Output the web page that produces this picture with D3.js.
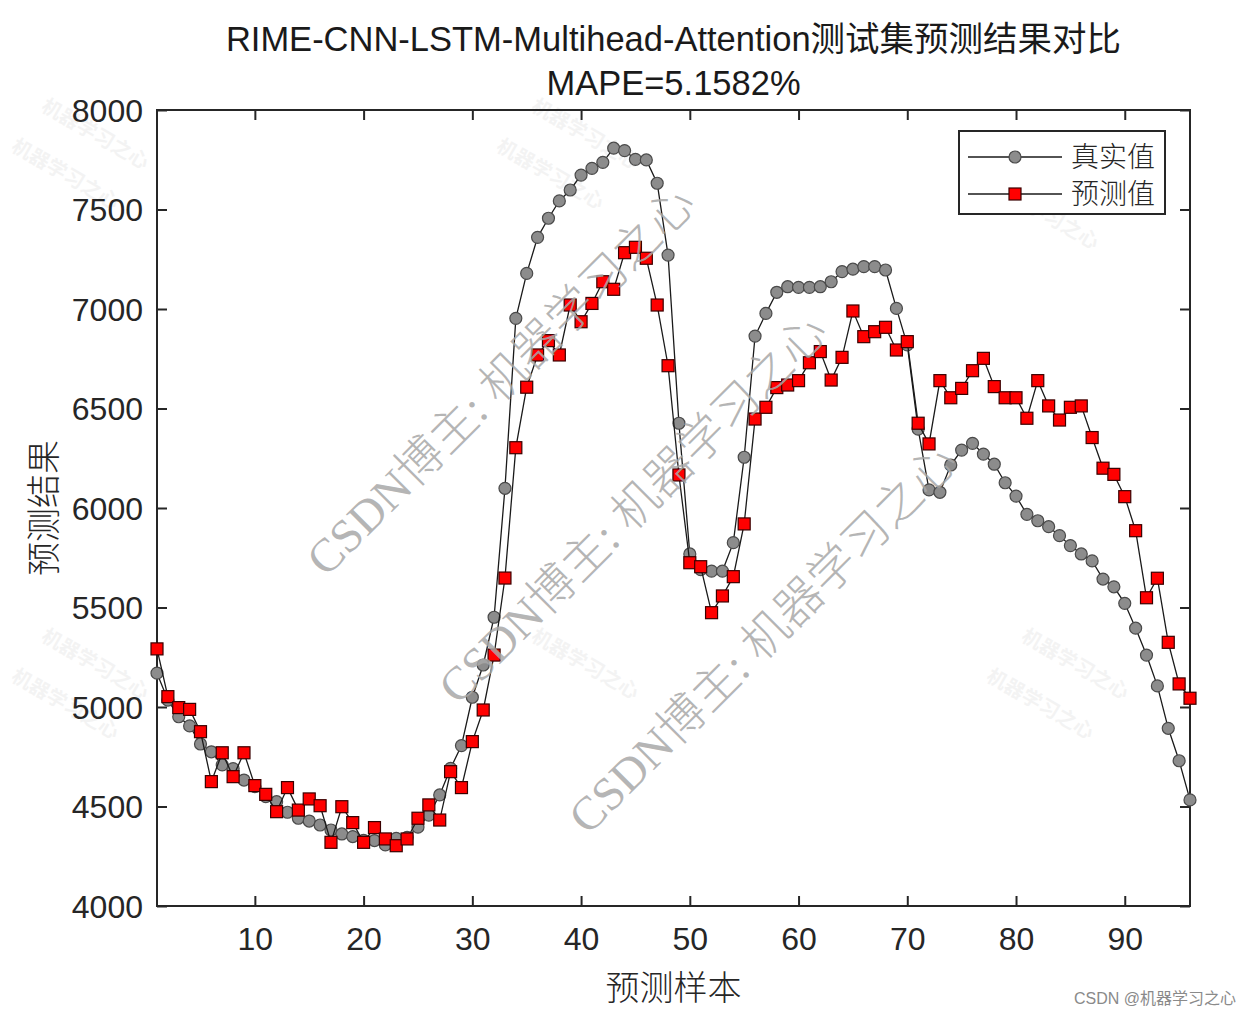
<!DOCTYPE html>
<html>
<head>
<meta charset="utf-8">
<script src="https://cdn.jsdelivr.net/npm/d3@7"></script>
<style>
  html, body { margin: 0; padding: 0; background: #fff; }
  svg { display: block; }
</style>
</head>
<body>
<svg id="chart" width="1252" height="1017"></svg>
<script>
// ---- data ----
const titleLine1 = "RIME-CNN-LSTM-Multihead-Attention测试集预测结果对比";
const titleLine2 = "MAPE=5.1582%";
const xLabel = "预测样本";
const yLabel = "预测结果";
const seriesNames = ["真实值", "预测值"];
const xTicks = [10, 20, 30, 40, 50, 60, 70, 80, 90];
const yTicks = [4000, 4500, 5000, 5500, 6000, 6500, 7000, 7500, 8000];

const trueValues = [
  5170, 5035, 4951, 4905, 4814, 4775, 4709, 4690, 4633, 4600,
  4550, 4524, 4471, 4441, 4427, 4407, 4382, 4362, 4349, 4330,
  4329, 4307, 4340, 4345, 4396, 4457, 4558, 4692, 4806, 5049,
  5211, 5451, 6099, 6953, 7179, 7360, 7456, 7543, 7598, 7673,
  7707, 7737, 7808, 7796, 7752, 7749, 7632, 7271, 6426, 5769,
  5690, 5683, 5683, 5826, 6255, 6864, 6978, 7084, 7112, 7109,
  7109, 7112, 7137, 7188, 7200, 7213, 7213, 7196, 7003, 6820,
  6396, 6091, 6079, 6216, 6291, 6325, 6271, 6220, 6127, 6060,
  5968, 5936, 5906, 5861, 5811, 5769, 5734, 5643, 5604, 5521,
  5396, 5261, 5106, 4893, 4730, 4533
];
const predValues = [
  5292, 5052, 4997, 4988, 4876, 4625, 4770, 4650, 4770, 4605,
  4561, 4474, 4595, 4482, 4538, 4504, 4320, 4499, 4419, 4320,
  4394, 4337, 4303, 4337, 4441, 4508, 4432, 4675, 4595, 4826,
  4985, 5261, 5648, 6303, 6607, 6769, 6841, 6769, 7020, 6936,
  7028, 7137, 7099, 7283, 7310, 7255, 7020, 6715, 6166, 5725,
  5705, 5474, 5558, 5655, 5920, 6447, 6506, 6605, 6618, 6640,
  6730, 6786, 6643, 6757, 6990, 6861, 6886, 6908, 6794, 6836,
  6426, 6322, 6640, 6554, 6601, 6690, 6752, 6610, 6554, 6554,
  6451, 6640, 6513, 6442, 6506, 6513, 6354, 6200, 6169, 6057,
  5886, 5549, 5647, 5325, 5116, 5044
];

// ---- layout ----
const svg = d3.select("#chart");
const L = 157, R = 1190, T = 110, B = 906;
const axisColor = "#262626";
const latin = "'Liberation Sans', Arial, 'Noto Sans CJK SC', sans-serif";
const cjk = "'Noto Sans CJK SC', sans-serif";

const x = d3.scaleLinear().domain([1, 96]).range([L, R]);
const y = d3.scaleLinear().domain([4000, 8000]).range([B, T]);

svg.append("rect").attr("x", 0).attr("y", 0).attr("width", 1252).attr("height", 1017).attr("fill", "#fff");

// faint background watermarks
const faint = "机器学习之心";
const fw = svg.append("g").attr("pointer-events", "none");
[[40, 110], [10, 150], [530, 110], [495, 150], [1025, 150], [990, 190], [40, 640], [10, 680], [530, 640], [1020, 640], [985, 680]].forEach(p => {
  fw.append("text").attr("transform", `translate(${p[0]},${p[1]}) rotate(30)`)
    .attr("fill", "#ececec").attr("fill-opacity", 0.6)
    .style("font-family", cjk).style("font-size", "20px").style("font-weight", 700).text(faint);
});

// axes (ticks inside, MATLAB style)
const tickLen = 10;
const gB = svg.append("g").attr("transform", `translate(0,${B})`)
  .call(d3.axisBottom(x).tickValues(xTicks).tickSize(-tickLen).tickPadding(22).tickFormat(d3.format("d")));
const gT = svg.append("g").attr("transform", `translate(0,${T})`)
  .call(d3.axisTop(x).tickValues(xTicks).tickSize(-tickLen).tickFormat(""));
const gL = svg.append("g").attr("transform", `translate(${L},0)`)
  .call(d3.axisLeft(y).tickValues(yTicks).tickSize(-tickLen).tickPadding(14).tickFormat(d3.format("d")));
const gR = svg.append("g").attr("transform", `translate(${R},0)`)
  .call(d3.axisRight(y).tickValues(yTicks).tickSize(-tickLen).tickFormat(""));
[gB, gT, gL, gR].forEach(g => {
  g.select(".domain").remove();
  g.selectAll(".tick line").attr("stroke", axisColor).attr("stroke-width", 2);
  g.selectAll(".tick text").attr("fill", axisColor).style("font-family", latin).style("font-size", "32px");
});
gB.selectAll(".tick text").attr("dy", "0.68em");
gL.selectAll(".tick text").attr("dy", "0.35em");

svg.append("rect").attr("x", L).attr("y", T).attr("width", R - L).attr("height", B - T)
  .attr("fill", "none").attr("stroke", axisColor).attr("stroke-width", 2);

// series
const idx = d3.range(1, 97);
const line = d3.line().x(d => x(d[0])).y(d => y(d[1]));
const trueData = idx.map((i, k) => [i, trueValues[k]]);
const predData = idx.map((i, k) => [i, predValues[k]]);

svg.append("path").datum(trueData).attr("d", line).attr("fill", "none").attr("stroke", "#1a1a1a").attr("stroke-width", 1.3);
svg.append("g").selectAll("circle").data(trueData).join("circle")
  .attr("cx", d => x(d[0])).attr("cy", d => y(d[1])).attr("r", 6)
  .attr("fill", "#8c8c8c").attr("stroke", "#4a4a4a").attr("stroke-width", 1.2);

svg.append("path").datum(predData).attr("d", line).attr("fill", "none").attr("stroke", "#1a1a1a").attr("stroke-width", 1.3);
const sq = 12;
svg.append("g").selectAll("rect").data(predData).join("rect")
  .attr("x", d => x(d[0]) - sq / 2).attr("y", d => y(d[1]) - sq / 2)
  .attr("width", sq).attr("height", sq)
  .attr("fill", "#ff0000").attr("stroke", "#3a0000").attr("stroke-width", 1.2);

// titles
svg.append("text").attr("x", (L + R) / 2).attr("y", 51).attr("text-anchor", "middle")
  .attr("fill", "#1a1a1a").style("font-family", latin).style("font-size", "34.5px").text(titleLine1);
svg.append("text").attr("x", (L + R) / 2).attr("y", 95).attr("text-anchor", "middle")
  .attr("fill", "#1a1a1a").style("font-family", latin).style("font-size", "34.5px").text(titleLine2);

// axis labels
svg.append("text").attr("x", (L + R) / 2).attr("y", 1000).attr("text-anchor", "middle")
  .attr("fill", "#262626").style("font-family", cjk).style("font-size", "34px").style("font-weight", 300).text(xLabel);
svg.append("text").attr("transform", `translate(56,${(T + B) / 2}) rotate(-90)`).attr("text-anchor", "middle")
  .attr("fill", "#262626").style("font-family", cjk).style("font-size", "34px").style("font-weight", 300).text(yLabel);

// legend
const lg = svg.append("g");
lg.append("rect").attr("x", 959).attr("y", 131).attr("width", 206).attr("height", 83)
  .attr("fill", "#fff").attr("stroke", axisColor).attr("stroke-width", 2);
const legendRows = [
  { name: seriesNames[0], yy: 157, type: "circle" },
  { name: seriesNames[1], yy: 194, type: "square" }
];
legendRows.forEach(r => {
  lg.append("line").attr("x1", 968).attr("x2", 1062).attr("y1", r.yy).attr("y2", r.yy)
    .attr("stroke", "#1a1a1a").attr("stroke-width", 1.3);
  if (r.type === "circle") {
    lg.append("circle").attr("cx", 1015).attr("cy", r.yy).attr("r", 6)
      .attr("fill", "#8c8c8c").attr("stroke", "#4a4a4a").attr("stroke-width", 1.2);
  } else {
    lg.append("rect").attr("x", 1015 - sq / 2).attr("y", r.yy - sq / 2).attr("width", sq).attr("height", sq)
      .attr("fill", "#ff0000").attr("stroke", "#3a0000").attr("stroke-width", 1.2);
  }
  lg.append("text").attr("x", 1071).attr("y", r.yy).attr("dy", "0.36em")
    .attr("fill", "#262626").style("font-family", cjk).style("font-size", "28px").style("font-weight", 300).text(r.name);
});

// big watermarks
const wm = svg.append("g").attr("pointer-events", "none");
const wmText = "CSDN博主: 机器学习之心";
[[326, 578], [458, 706], [588, 836]].forEach(p => {
  wm.append("text").attr("transform", `translate(${p[0]},${p[1]}) rotate(-45)`)
    .attr("fill", "#a8a8a8").attr("fill-opacity", 0.85)
    .style("font-family", "'Liberation Serif', 'DejaVu Serif', 'Noto Sans CJK SC', serif")
    .style("font-size", "47px").style("font-weight", 300).text(wmText);
});

svg.append("text").attr("x", 1236).attr("y", 1004).attr("text-anchor", "end")
  .attr("fill", "#8a8a8a").style("font-family", latin).style("font-size", "16px").text("CSDN @机器学习之心");
</script>
</body>
</html>
